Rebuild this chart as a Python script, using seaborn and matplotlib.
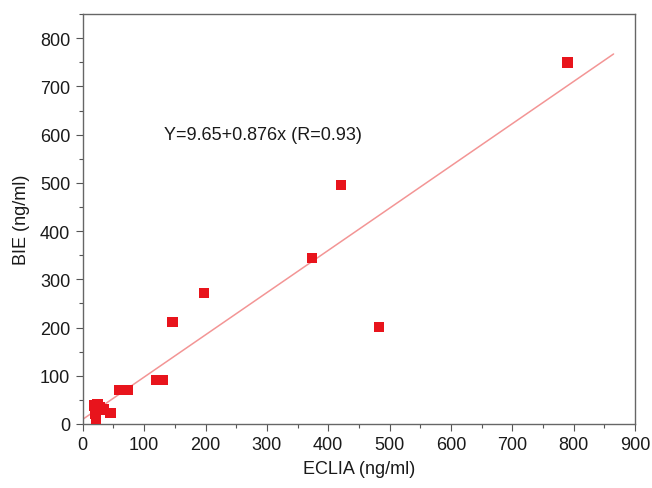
import matplotlib
matplotlib.use('Agg')
import matplotlib.pyplot as plt
import seaborn as sns
import numpy as np
import pandas as pd
from matplotlib.ticker import MultipleLocator

# Datos
eclia = [18, 24, 22, 22, 20, 35, 45, 28, 60, 73, 119, 130, 146, 197, 373, 421, 483, 790]
bie = [38, 42, 30, 8, 20, 30, 22, 35, 71, 71, 91, 91, 212, 272, 344, 495, 201, 750]

# Recta de regresión
intercepto = 9.65
pendiente = 0.876
rango_ajuste = [0, 865]

sns.set_style('ticks')
plt.rcParams['font.family'] = ['Liberation Sans', 'DejaVu Sans']

df = pd.DataFrame({'ECLIA': eclia, 'BIE': bie})
ajuste_x = np.array(rango_ajuste)
df_ajuste = pd.DataFrame({'x': ajuste_x, 'y': intercepto + pendiente * ajuste_x})

fig = plt.figure(figsize=(6.52, 4.89), dpi=100)
ax = fig.add_axes([0.127, 0.131, 0.847, 0.838])

sns.lineplot(x='x', y='y', data=df_ajuste, color='#f39595', linewidth=1.1, ax=ax)
sns.scatterplot(x='ECLIA', y='BIE', data=df, marker='s', s=55, color='#e8141c',
                edgecolor='none', linewidth=0, ax=ax, zorder=3)

ax.set_xlim(0, 900)
ax.set_ylim(0, 850)
ax.xaxis.set_major_locator(MultipleLocator(100))
ax.xaxis.set_minor_locator(MultipleLocator(50))
ax.yaxis.set_major_locator(MultipleLocator(100))
ax.yaxis.set_minor_locator(MultipleLocator(50))
ax.tick_params(which='major', length=5, width=0.8, color='#555555', labelsize=13,
               labelcolor='#1a1a1a', pad=4)
ax.tick_params(which='minor', length=3, width=0.8, color='#555555')
for s in ax.spines.values():
    s.set_color('#666666')
    s.set_linewidth(1.0)

ax.set_xlabel('ECLIA (ng/ml)', fontsize=13, labelpad=5, color='#1a1a1a')
ax.set_ylabel('BIE (ng/ml)', fontsize=13, labelpad=7, color='#1a1a1a')

ax.text(132, 600, 'Y=9.65+0.876x (R=0.93)', fontsize=13, ha='left', va='center',
        color='#1a1a1a')

fig.savefig('out.png', dpi=100)
